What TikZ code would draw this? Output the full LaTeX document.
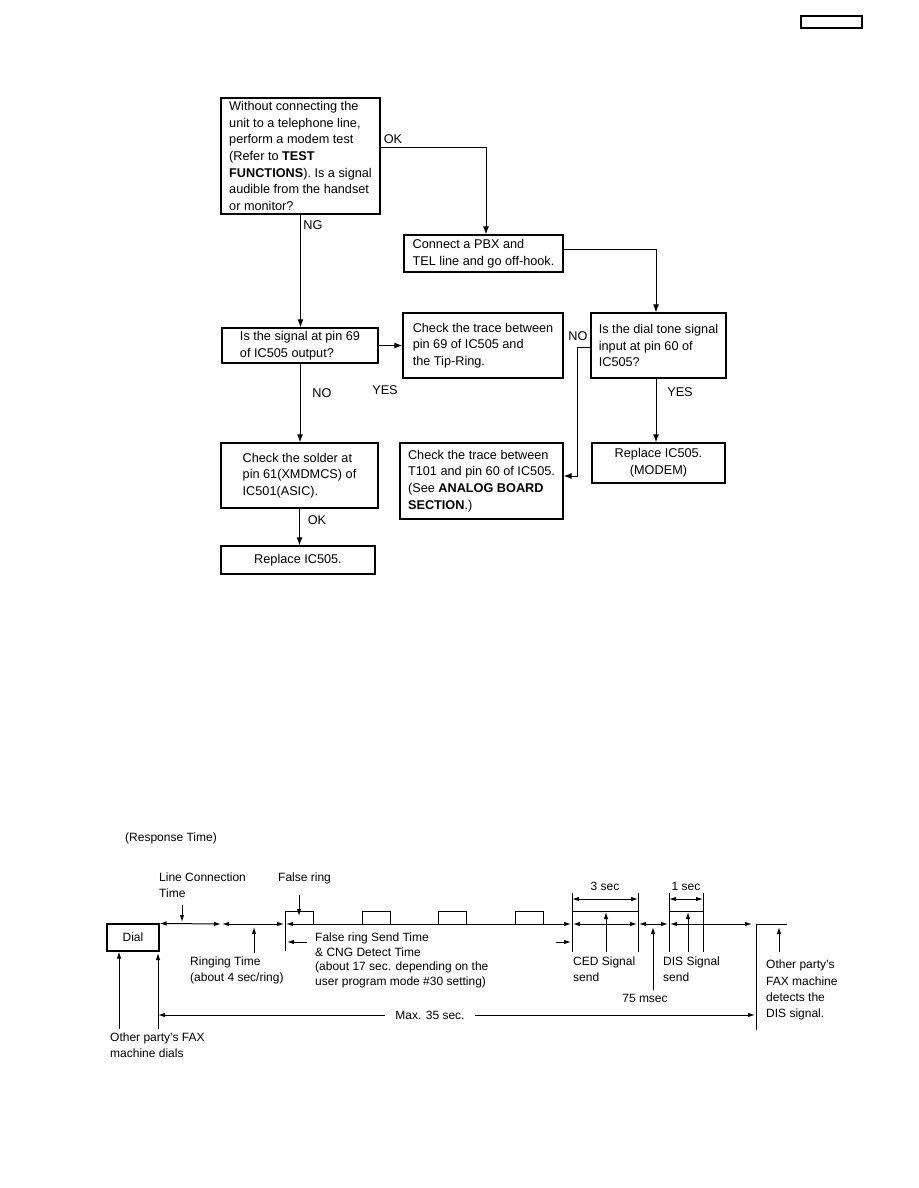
\documentclass[tikz,border=0pt]{standalone}
\usepackage{fontspec}
\setmainfont{Liberation Sans}
\usetikzlibrary{arrows.meta,positioning}
\newcommand{\flowfont}{\fontsize{12.7}{16.7}\selectfont}
\newcommand{\timefont}{\fontsize{12}{15.5}\selectfont}

\begin{document}
\begin{tikzpicture}[x=1pt,y=-1pt,
 box/.style={draw,line width=1.3pt,inner sep=0pt,align=left,font=\flowfont},
 arr/.style={-{Latex[length=8pt,width=6pt]},line width=1pt},
 tarr/.style={-{Latex[length=7pt,width=4.5pt]},line width=1pt},
 dim/.style={{Latex[length=7pt,width=4.5pt]}-{Latex[length=7pt,width=4.5pt]},line width=1pt},
 lbl/.style={font=\flowfont,inner sep=0pt},
 tlbl/.style={font=\timefont,inner sep=0pt,align=left,anchor=north west},
 wire/.style={line width=1pt}
]
\useasboundingbox (0,0) rectangle (918,1188);
\node[draw,line width=1.3pt,minimum width=61pt,minimum height=12pt,inner sep=0pt] (tag) at (831.5,22) {};

\node[box,minimum width=159pt,minimum height=116pt] (modemtest) at (300.5,156) {Without connecting the\\unit to a telephone line,\\perform a modem test\\(Refer to \textbf{TEST}\\\textbf{FUNCTIONS}). Is a signal\\audible from the handset\\or monitor?};
\node[box,minimum width=159pt,minimum height=37pt] (pbx) at (483.5,253.5) {Connect a PBX and\\TEL line and go off-hook.};
\node[box,minimum width=156pt,minimum height=35pt] (pin69) at (300,345.5) {Is the signal at pin 69\\of IC505 output?};
\node[box,minimum width=160pt,minimum height=65pt] (trace69) at (483,345.5) {Check the trace between\\pin 69 of IC505 and\\the Tip-Ring.};
\node[box,minimum width=135pt,minimum height=65pt] (dialtone) at (658.5,345.5) {Is the dial tone signal\\input at pin 60 of\\IC505?};
\node[box,minimum width=157pt,minimum height=65pt] (solder) at (299.5,475.5) {Check the solder at\\pin 61(XMDMCS) of\\IC501(ASIC).};
\node[box,minimum width=163pt,minimum height=76pt] (trace60) at (481.5,481) {Check the trace between\\T101 and pin 60 of IC505.\\(See \textbf{ANALOG BOARD}\\\textbf{SECTION}.)};
\node[box,align=center,minimum width=133pt,minimum height=40pt] (repmodem) at (658.5,463) {Replace IC505.\\(MODEM)};
\node[box,minimum width=154pt,minimum height=28pt] (replace) at (298,560) {Replace IC505.};

\coordinate (okturn) at (486,147);
\coordinate (pbxturn) at (656,249);
\coordinate (noturn) at (577,347);
\coordinate (noend) at (577,476);
\draw[arr] (modemtest.east |- okturn) -- (okturn) -- (okturn |- pbx.north);
\draw[arr] (pbx.east |- pbxturn) -- (pbxturn) -- (pbxturn |- dialtone.north);
\draw[arr] (modemtest.south) -- (modemtest.south |- pin69.north);
\draw[arr] (pin69) -- (trace69);
\draw[arr] (pin69.south) -- (pin69.south |- solder.north);
\draw[arr] (solder.south) -- (solder.south |- replace.north);
\draw[arr] (pbxturn |- dialtone.south) -- (pbxturn |- repmodem.north);
\draw[arr] (dialtone.west |- noturn) -- (noturn) -- (noend) -- (trace60.east |- noend);

\node[lbl] (okA) at (393,139) {OK};
\node[lbl] (ngA) at (313,225) {NG};
\node[lbl] (noA) at (322,393) {NO};
\node[lbl] (yesA) at (385,390) {YES};
\node[lbl] (noB) at (578,336) {NO};
\node[lbl] (yesB) at (680,392) {YES};
\node[lbl] (okB) at (317,520) {OK};

\node[tlbl,anchor=west] (resp) at (125,838) {(Response Time)};
\node[draw,line width=1.1pt,minimum width=52pt,minimum height=27pt,inner sep=0pt,font=\timefont] (dial) at (133,937.5) {Dial};
\node[tlbl] (lct) at (159,873) {Line Connection\\Time};
\node[tlbl] (falsering) at (278,873) {False ring};
\node[tlbl] (ringing) at (190,957) {Ringing Time\\(about 4 sec/ring)};
\node[tlbl,font=\fontsize{12}{14.5}\selectfont] (cng) at (315,933) {False ring Send Time\\\& CNG Detect Time\\(about 17 sec. depending on the\\user program mode \#30 setting)};
\node[tlbl] (ced) at (573,957) {CED Signal\\send};
\node[tlbl] (dis) at (663,957) {DIS Signal\\send};
\node[tlbl,font=\fontsize{12}{16.2}\selectfont] (detects) at (766,960) {Other party's\\FAX machine\\detects the\\DIS signal.};
\node[tlbl] (dials) at (110,1033) {Other party's FAX\\machine dials};
\node[font=\timefont,inner sep=0pt] (three) at (605,886) {3 sec};
\node[font=\timefont,inner sep=0pt] (one) at (686,886) {1 sec};
\node[font=\timefont,inner sep=0pt] (msec) at (645,998) {75 msec};
\node[font=\timefont,inner sep=0pt] (max) at (430,1015) {Max. 35 sec.};

\draw[wire] (285,911) -- (285,951);
\foreach \x in {285,362,438,515}
 \draw[wire] (\x,924) -- (\x,911) -- (\x+28,911) -- (\x+28,924);
\foreach \x in {572,638,669,703}
 \draw[wire] (\x,893) -- (\x,952);
\draw[wire] (572,911) -- (638,911);
\draw[wire] (669,911) -- (703,911);
\draw[dim] (572,899) -- (638,899);
\draw[dim] (669,899) -- (703,899);

\draw[dim] (dial.north east) -- (221,924);
\draw[dim] (222,924) -- (284,924);
\draw[dim] (286,924) -- (571,924);
\draw[dim] (573,924) -- (637,924);
\draw[dim] (639,924) -- (668,924);
\draw[dim] (670,924) -- (752,924);
\draw[wire] (756,1030) -- (756,924) -- (787,924);

\draw[tarr] (307,942) -- (287,942);
\draw[tarr] (556,942) -- (571,942);
\draw[tarr] (182,905) -- (182,922);
\draw[tarr] (299,895) -- (299,916);
\draw[tarr] (254,953) -- (254,927);
\draw[tarr] (606,952) -- (606,912);
\draw[tarr] (653,990) -- (653,927);
\draw[tarr] (688,952) -- (688,912);
\draw[tarr] (779,952) -- (779,927);
\draw[tarr] (119,1029) -- (dial.south -| 119,0);
\draw[tarr] (158,1029) -- (158,953);
\draw[tarr] ([xshift=-10pt]max.west) -- (158,1015);
\draw[tarr] ([xshift=10pt]max.east) -- (755,1015);
\end{tikzpicture}
\end{document}
